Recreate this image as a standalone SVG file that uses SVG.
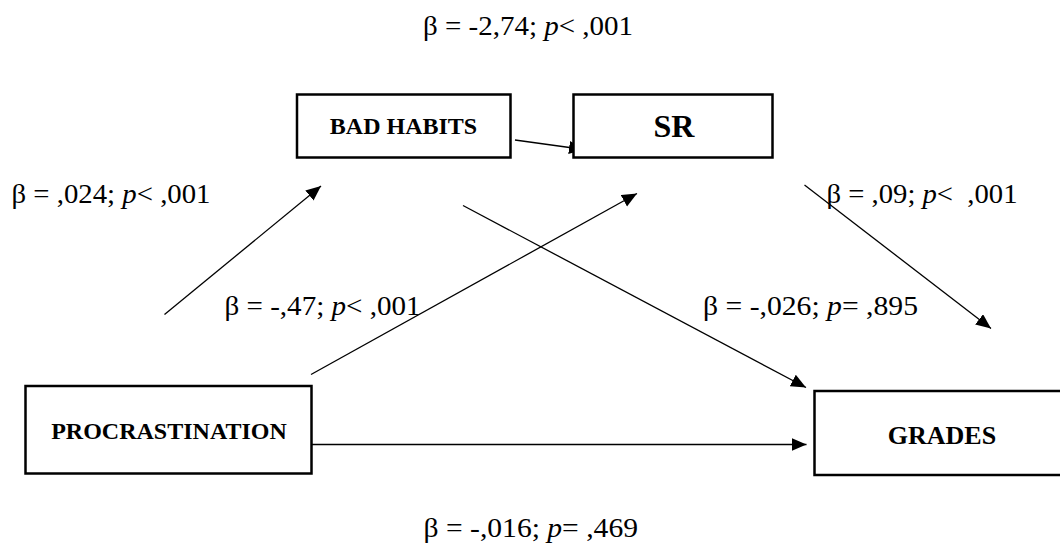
<svg xmlns="http://www.w3.org/2000/svg" width="1060" height="543" viewBox="0 0 1060 543">
<style>
.box{fill:#fff;stroke:#000;stroke-width:2.5}
.lbl{font-family:"Liberation Serif","Times New Roman",serif;font-size:27px;fill:#000}
.nm{font-family:"Liberation Serif","Times New Roman",serif;font-weight:bold;fill:#000;text-anchor:middle}
.it{font-style:italic}
.con{stroke:#000;stroke-width:1.3;fill:none;marker-end:url(#ah)}
</style>
<defs>
<marker id="ah" markerUnits="userSpaceOnUse" markerWidth="16" markerHeight="14" refX="15" refY="6.5" orient="auto">
<path d="M0,0 L15,6.5 L0,13 z" fill="#000"/>
</marker>
</defs>
<rect width="1060" height="543" fill="#fff"/>
<g id="connectors">
<line class="con" x1="515" y1="140" x2="584" y2="149.5"/>
<line class="con" x1="164.5" y1="314.5" x2="321" y2="186"/>
<line class="con" x1="311" y1="374.5" x2="637" y2="193.5"/>
<line class="con" x1="463" y1="205.5" x2="806" y2="387.5"/>
<line class="con" x1="804.5" y1="185" x2="991" y2="328.5"/>
<line class="con" x1="311.5" y1="444.5" x2="806.5" y2="444.5"/>
</g>
<g id="bad-habits">
<rect class="box" x="297" y="94.5" width="213.5" height="63"/>
<text class="nm" x="403.5" y="134" font-size="24">BAD HABITS</text>
</g>
<g id="sr">
<rect class="box" x="573.5" y="94.5" width="199" height="63"/>
<text class="nm" x="674" y="137" font-size="32">SR</text>
</g>
<g id="procrastination">
<rect class="box" x="25.5" y="386" width="286" height="87.5"/>
<text class="nm" x="169" y="438.5" font-size="24">PROCRASTINATION</text>
</g>
<g id="grades">
<rect class="box" x="814.5" y="391" width="260" height="84"/>
<text class="nm" x="942" y="443.5" font-size="26">GRADES</text>
</g>
<g id="labels">
<text class="lbl" x="423" y="35" textLength="210" lengthAdjust="spacingAndGlyphs">β = -2,74; <tspan class="it">p</tspan>&lt; ,001</text>
<text class="lbl" x="11.5" y="203" textLength="199" lengthAdjust="spacingAndGlyphs">β = ,024; <tspan class="it">p</tspan>&lt; ,001</text>
<text class="lbl" x="826.5" y="203" textLength="191" lengthAdjust="spacingAndGlyphs" xml:space="preserve">β = ,09; <tspan class="it">p</tspan>&lt;  ,001</text>
<text class="lbl" x="224.5" y="315" textLength="196" lengthAdjust="spacingAndGlyphs">β = -,47; <tspan class="it">p</tspan>&lt; ,001</text>
<text class="lbl" x="703" y="315" textLength="215" lengthAdjust="spacingAndGlyphs">β = -,026; <tspan class="it">p</tspan>= ,895</text>
<text class="lbl" x="423.5" y="537" textLength="214.5" lengthAdjust="spacingAndGlyphs">β = -,016; <tspan class="it">p</tspan>= ,469</text>
</g>
</svg>
